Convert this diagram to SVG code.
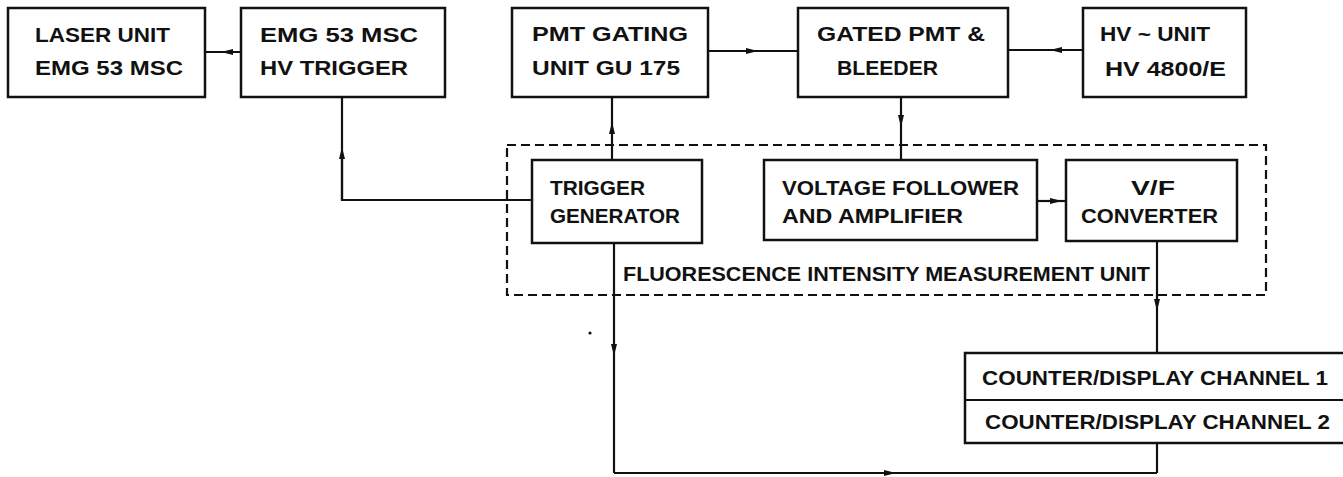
<svg xmlns="http://www.w3.org/2000/svg" width="1343" height="477" viewBox="0 0 1343 477">
<style>
.box{fill:#fff;stroke:#111;stroke-width:2.5}
.ln{fill:none;stroke:#111;stroke-width:2.2}
.arr{fill:none;stroke:#111;stroke-width:2.2;marker-mid:url(#ah)}
.dash{fill:none;stroke:#111;stroke-width:2.2;stroke-dasharray:9 5}
text{font-family:"Liberation Sans",Arial,sans-serif;font-weight:bold;font-size:21px;fill:#111}
</style>
<defs>
<marker id="ah" viewBox="0 0 12 6" refX="6" refY="3" markerWidth="12" markerHeight="6" markerUnits="userSpaceOnUse" orient="auto">
<path d="M0,0 L12,3 L0,6 z" fill="#111"/>
</marker>
</defs>
<rect width="1343" height="477" fill="#fff"/>
<g id="connectors">
<polyline class="arr" points="241,52 227,52 205,52"/>
<polyline class="arr" points="708,51 752,51 798,51"/>
<polyline class="arr" points="1083,50 1056,50 1008,50"/>
<polyline class="ln" points="532,200 342,200 342,153"/>
<polyline class="arr" points="342,200 342,153 342,97"/>
<polyline class="arr" points="612,160 612,128 612,97"/>
<polyline class="arr" points="901,97 901,121 901,160"/>
<polyline class="arr" points="1037,201 1056,201 1066,201"/>
<polyline class="arr" points="1157,241 1157,305 1157,353"/>
<polyline class="arr" points="614,243 614,350 614,473"/>
<polyline class="arr" points="614,473 890,473 1157,473"/>
<polyline class="ln" points="1157,473 1157,443"/>
<circle cx="590" cy="333" r="1.6" fill="#111"/>
</g>
<g id="fluorescence-unit">
<rect class="dash" x="507" y="145" width="759" height="150"/>
<text x="623" y="281" textLength="527" lengthAdjust="spacingAndGlyphs">FLUORESCENCE INTENSITY MEASUREMENT UNIT</text>
</g>
<g id="laser-unit">
<rect class="box" x="8" y="8" width="197" height="89"/>
<text x="35" y="42" textLength="135" lengthAdjust="spacingAndGlyphs">LASER UNIT</text>
<text x="35" y="75" textLength="148" lengthAdjust="spacingAndGlyphs">EMG 53 MSC</text>
</g>
<g id="hv-trigger">
<rect class="box" x="241" y="8" width="204" height="89"/>
<text x="260" y="42" textLength="158" lengthAdjust="spacingAndGlyphs">EMG 53 MSC</text>
<text x="260" y="75" textLength="148" lengthAdjust="spacingAndGlyphs">HV TRIGGER</text>
</g>
<g id="pmt-gating">
<rect class="box" x="512" y="8" width="196" height="89"/>
<text x="532" y="41" textLength="156" lengthAdjust="spacingAndGlyphs">PMT GATING</text>
<text x="532" y="75" textLength="148" lengthAdjust="spacingAndGlyphs">UNIT GU 175</text>
</g>
<g id="gated-pmt">
<rect class="box" x="798" y="8" width="210" height="89"/>
<text x="817" y="41" textLength="168" lengthAdjust="spacingAndGlyphs">GATED PMT &amp;</text>
<text x="837" y="75" textLength="101" lengthAdjust="spacingAndGlyphs">BLEEDER</text>
</g>
<g id="hv-unit">
<rect class="box" x="1083" y="8" width="163" height="89"/>
<text x="1100" y="41" textLength="110" lengthAdjust="spacingAndGlyphs">HV ~ UNIT</text>
<text x="1105" y="76" textLength="121" lengthAdjust="spacingAndGlyphs">HV 4800/E</text>
</g>
<g id="trigger-generator">
<rect class="box" x="532" y="160" width="170" height="83"/>
<text x="550" y="195" textLength="95" lengthAdjust="spacingAndGlyphs">TRIGGER</text>
<text x="550" y="223" textLength="130" lengthAdjust="spacingAndGlyphs">GENERATOR</text>
</g>
<g id="voltage-follower">
<rect class="box" x="764" y="160" width="273" height="80"/>
<text x="782" y="195" textLength="237" lengthAdjust="spacingAndGlyphs">VOLTAGE FOLLOWER</text>
<text x="782" y="223" textLength="181" lengthAdjust="spacingAndGlyphs">AND AMPLIFIER</text>
</g>
<g id="vf-converter">
<rect class="box" x="1066" y="160" width="171" height="81"/>
<text x="1131" y="195" textLength="44" lengthAdjust="spacingAndGlyphs">V/F</text>
<text x="1081" y="223" textLength="137" lengthAdjust="spacingAndGlyphs">CONVERTER</text>
</g>
<g id="counter-display">
<rect class="box" x="965" y="353" width="390" height="90"/>
<line class="ln" x1="965" y1="400" x2="1343" y2="400"/>
<text x="982" y="385" textLength="346" lengthAdjust="spacingAndGlyphs">COUNTER/DISPLAY CHANNEL 1</text>
<text x="985" y="429" textLength="345" lengthAdjust="spacingAndGlyphs">COUNTER/DISPLAY CHANNEL 2</text>
</g>
</svg>
